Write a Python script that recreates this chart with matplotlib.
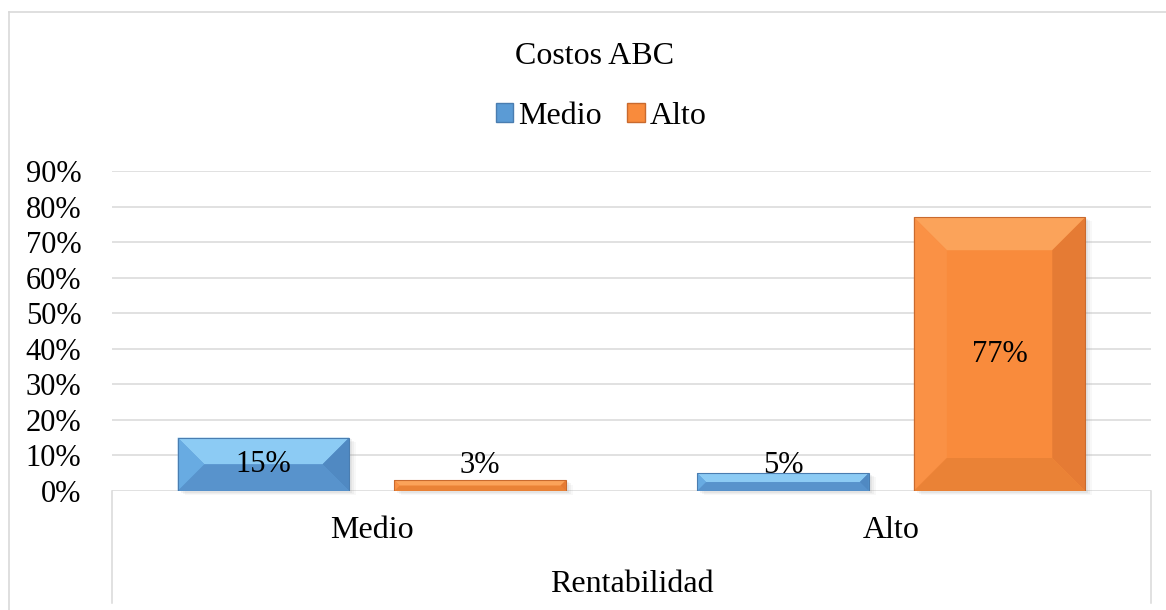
import matplotlib.pyplot as plt
import numpy as np
import matplotlib.transforms as mtransforms
from matplotlib.patches import Polygon, Patch
from matplotlib.lines import Line2D

plt.rcParams['font.family'] = ['Liberation Serif', 'DejaVu Serif']

title = 'Costos ABC'
x_label = 'Rentabilidad'
categories = ['Medio', 'Alto']
series_names = ['Medio', 'Alto']
medio_vals = [0.15, 0.05]
alto_vals = [0.03, 0.77]
y_ticks = [0.0, 0.1, 0.2, 0.3, 0.4, 0.5, 0.6, 0.7, 0.8, 0.9]

# face, top, left, right, bottom, edge
blue = ['#5B9BD5', '#8CCBF4', '#68ABE2', '#5089C2', '#5893CC', '#4A7DB0']
orange = ['#F98B3C', '#FBA35A', '#FA9145', '#E57B34', '#EA8236', '#C96A2E']

W, H = 1166, 610
fig = plt.figure(figsize=(W / 100, H / 100), dpi=100)
ax = fig.add_axes([112 / W, 1 - 491 / H, (1151 - 112) / W, 320 / H])
ax.set_xlim(-0.5, 1.5)
ax.set_ylim(0, 0.9)

x = np.arange(len(categories))
bw = 0.33
off = 0.2085


def shadow(rect):
    for d, a in [(0.07, 0.05), (0.05, 0.07), (0.03, 0.09)]:
        tr = ax.transData + mtransforms.ScaledTranslation(d, -d * 0.6, fig.dpi_scale_trans)
        s = plt.Rectangle((rect.get_x(), rect.get_y()), rect.get_width(), rect.get_height(),
                          facecolor='#7f7f7f', alpha=a, edgecolor='none', transform=tr,
                          zorder=1.5, clip_on=False)
        ax.add_patch(s)


def bevel(rect, cols, max_px=33):
    x0, y0 = rect.get_x(), rect.get_y()
    w, h = rect.get_width(), rect.get_height()
    sx, sy = ax.transData.transform((1, 1)) - ax.transData.transform((0, 0))
    b = min(max_px, h * sy / 2, w * sx / 2)
    bx, by = b / sx, b / sy
    x1, y1 = x0 + w, y0 + h
    parts = [
        ([(x0, y1), (x1, y1), (x1 - bx, y1 - by), (x0 + bx, y1 - by)], cols[1]),
        ([(x0, y0), (x0, y1), (x0 + bx, y1 - by), (x0 + bx, y0 + by)], cols[2]),
        ([(x1, y0), (x1, y1), (x1 - bx, y1 - by), (x1 - bx, y0 + by)], cols[3]),
        ([(x0, y0), (x1, y0), (x1 - bx, y0 + by), (x0 + bx, y0 + by)], cols[4]),
    ]
    for pts, c in parts:
        ax.add_patch(Polygon(pts, closed=True, facecolor=c, edgecolor='none', zorder=2.5))
    ax.add_patch(plt.Rectangle((x0, y0), w, h, facecolor='none', edgecolor=cols[5],
                               lw=0.8, zorder=2.6))


bars_m = ax.bar(x - off, medio_vals, bw, color=blue[0], zorder=2)
bars_a = ax.bar(x + off, alto_vals, bw, color=orange[0], zorder=2)
for bars, cols in [(bars_m, blue), (bars_a, orange)]:
    for r in bars:
        shadow(r)
        bevel(r, cols)
        v = r.get_height()
        cx = r.get_x() + r.get_width() / 2
        if v >= 0.1:
            ax.text(cx, v / 2, f'{v:.0%}', ha='center', va='center', fontsize=22, zorder=3)
        else:
            ax.text(cx, max(v, 0.05), f'{v:.0%}', ha='center', va='baseline', fontsize=22,
                    zorder=3)

ax.set_yticks(y_ticks)
ax.set_yticklabels([f'{t:.0%}' for t in y_ticks])
ax.set_xticks(x)
ax.set_xticklabels(categories)
ax.tick_params(axis='y', length=0, pad=22, labelsize=22)
ax.tick_params(axis='x', length=0, pad=18, labelsize=23)
ax.grid(axis='y', color='#D9D9D9', lw=1.1)
ax.set_axisbelow(True)
for s in ax.spines.values():
    s.set_visible(False)

ax.set_xlabel(x_label, fontsize=23)
ax.xaxis.set_label_coords(0.5, -(585 - 491) / 320)
ax.xaxis.label.set_va('center')

# category axis box lines
for xa in [0, 1]:
    ax.add_line(Line2D([xa, xa], [0, -(603 - 491) / 320], color='#D9D9D9', lw=1.1,
                       transform=ax.transAxes, clip_on=False))

# chart border
fig.add_artist(Line2D([9 / W, 9 / W], [0, 1 - 12 / H], color='#D9D9D9', lw=1.2,
                      transform=fig.transFigure))
fig.add_artist(Line2D([9 / W, 1], [1 - 12 / H, 1 - 12 / H], color='#D9D9D9', lw=1.2,
                      transform=fig.transFigure))

fig.text(595 / W, 1 - 64 / H, title, ha='center', va='baseline', fontsize=23)

handles = [Patch(facecolor=blue[0], edgecolor=blue[5]),
           Patch(facecolor=orange[0], edgecolor=orange[5])]
fig.legend(handles, series_names, loc='center', bbox_to_anchor=(601 / W, 1 - 116 / H),
           ncol=2, frameon=False, fontsize=23, handlelength=0.55, handleheight=0.55,
           handletextpad=0.15, columnspacing=0.8, borderpad=0)

fig.savefig('out.png', dpi=100)
